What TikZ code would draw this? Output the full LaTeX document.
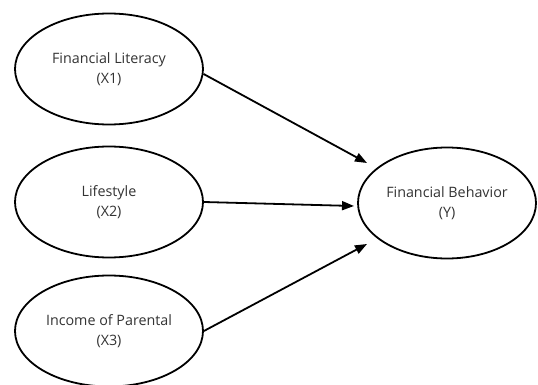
\documentclass[tikz,border=0pt]{standalone}
\usepackage{fontspec}
\setmainfont{Open Sans}
\usetikzlibrary{arrows.meta,shapes.geometric}
\definecolor{txt}{HTML}{333333}
\begin{document}
\begin{tikzpicture}[x=1pt,y=-1pt,
  var/.style={draw=black,line width=1.8pt,ellipse,minimum width=188pt,minimum height=111pt,inner sep=0pt,
    align=center,text=txt,font=\fontsize{14.3}{20}\selectfont,fill=white},
  link/.style={line width=1.8pt,-{Triangle[length=12pt,width=9pt]}}]
\useasboundingbox (0,0) rectangle (538,385);
\node[var] (x1) at (109,69) {Financial Literacy\\(X1)};
\node[var] (x2) at (109,202) {Lifestyle\\(X2)};
\node[var] (x3) at (109,331) {Income of Parental\\(X3)};
\node[var,minimum width=178pt] (y) at (447,203) {Financial Behavior\\(Y)};
\coordinate (t1) at (367,163);
\coordinate (t2) at (354,206);
\coordinate (t3) at (367,244);
\draw[link] (x1.-3) -- (t1);
\draw[link] (x2.east) -- (t2);
\draw[link] (x3.east) -- (t3);
\end{tikzpicture}
\end{document}
